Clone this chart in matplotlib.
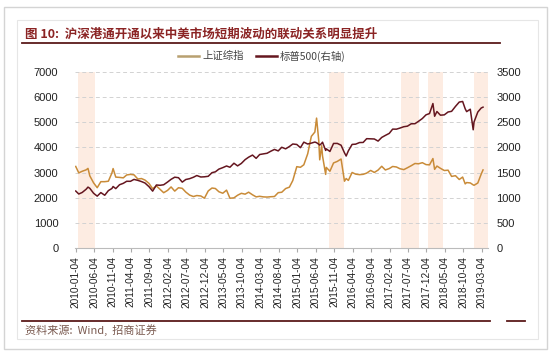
import matplotlib
matplotlib.use("Agg")
import matplotlib.pyplot as plt
import pandas as pd
from matplotlib.lines import Line2D
from matplotlib.patches import Rectangle

plt.rcParams['font.family'] = ['Liberation Sans', 'Noto Sans CJK SC', 'DejaVu Sans']

title = "图 10:  沪深港通开通以来中美市场短期波动的联动关系明显提升"
source = "资料来源:  Wind,  招商证券"
sh_name = "上证综指"
sp_name = "标普500(右轴)"

dates = [
    "2010-01-04", "2010-01-29", "2010-02-26", "2010-03-31", "2010-04-15", "2010-04-30",
    "2010-05-31", "2010-06-30", "2010-07-30", "2010-08-31", "2010-09-30", "2010-10-29",
    "2010-11-08", "2010-11-30", "2010-12-31",
    "2011-01-31", "2011-02-28", "2011-03-31", "2011-04-29", "2011-05-31", "2011-06-30",
    "2011-07-29", "2011-08-31", "2011-09-30", "2011-10-31", "2011-11-30", "2011-12-30",
    "2012-01-31", "2012-02-29", "2012-03-30", "2012-04-30", "2012-05-31", "2012-06-29",
    "2012-07-31", "2012-08-31", "2012-09-28", "2012-10-31", "2012-11-30", "2012-12-31",
    "2013-01-31", "2013-02-28", "2013-03-29", "2013-04-30", "2013-05-31", "2013-06-28",
    "2013-07-31", "2013-08-30", "2013-09-30", "2013-10-31", "2013-11-29", "2013-12-31",
    "2014-01-30", "2014-02-28", "2014-03-31", "2014-04-30", "2014-05-30", "2014-06-30",
    "2014-07-31", "2014-08-29", "2014-09-30", "2014-10-31", "2014-11-28", "2014-12-31",
    "2015-01-30", "2015-02-27", "2015-03-31", "2015-04-30", "2015-05-29", "2015-06-12",
    "2015-06-30", "2015-07-08", "2015-07-24", "2015-07-31", "2015-08-26", "2015-08-31",
    "2015-09-30", "2015-10-30", "2015-11-30", "2015-12-31",
    "2016-01-28", "2016-02-11", "2016-02-29", "2016-03-31", "2016-04-29", "2016-05-31",
    "2016-06-30", "2016-07-29", "2016-08-31", "2016-09-30", "2016-10-31", "2016-11-30",
    "2016-12-30",
    "2017-01-31", "2017-02-28", "2017-03-31", "2017-04-28", "2017-05-31", "2017-06-30",
    "2017-07-31", "2017-08-31", "2017-09-29", "2017-10-31", "2017-11-30", "2017-12-29",
    "2018-01-26", "2018-02-09", "2018-02-28", "2018-03-29", "2018-04-30", "2018-05-31",
    "2018-06-29", "2018-07-31", "2018-08-31", "2018-09-28", "2018-10-19", "2018-10-31",
    "2018-11-30", "2018-12-24", "2018-12-31",
    "2019-01-31", "2019-02-28", "2019-03-15",
]

sh_index = [
    3243, 2989, 3051, 3109, 3166, 2870,
    2592, 2398, 2638, 2638, 2656, 2979,
    3159, 2820, 2808,
    2790, 2905, 2928, 2911, 2743, 2762,
    2701, 2568, 2359, 2468, 2333, 2199,
    2292, 2428, 2263, 2397, 2373, 2225,
    2103, 2047, 2086, 2069, 1981, 2269,
    2385, 2366, 2237, 2178, 2301, 1979,
    1994, 2098, 2175, 2141, 2220, 2116,
    2033, 2056, 2033, 2026, 2039, 2048,
    2201, 2217, 2364, 2420, 2683, 3235,
    3210, 3310, 3748, 4441, 4612, 5166,
    4277, 3507, 4070, 3664, 2927, 3206,
    3053, 3383, 3445, 3539,
    2656, 2763, 2688, 3004, 2938, 2917,
    2930, 2979, 3085, 3005, 3100, 3250,
    3104,
    3159, 3242, 3223, 3155, 3117, 3192,
    3273, 3361, 3349, 3393, 3317, 3307,
    3558, 3129, 3259, 3169, 3082, 3095,
    2847, 2876, 2725, 2821, 2550, 2603,
    2588, 2510, 2494,
    2585, 2941, 3105,
]

sp500 = [
    1133, 1074, 1104, 1169, 1211, 1187,
    1089, 1031, 1102, 1049, 1141, 1183,
    1223, 1181, 1258,
    1286, 1327, 1326, 1364, 1345, 1321,
    1292, 1219, 1131, 1253, 1247, 1258,
    1312, 1366, 1408, 1398, 1310, 1362,
    1379, 1407, 1441, 1412, 1416, 1426,
    1498, 1515, 1569, 1598, 1631, 1606,
    1686, 1633, 1682, 1757, 1806, 1848,
    1783, 1859, 1872, 1884, 1924, 1960,
    1931, 2003, 1972, 2018, 2068, 2059,
    1995, 2105, 2068, 2086, 2107, 2094,
    2063, 2047, 2079, 2104, 1940, 1972,
    1920, 2079, 2080, 2044,
    1893, 1829, 1932, 2060, 2065, 2097,
    2099, 2174, 2171, 2168, 2126, 2199,
    2239,
    2279, 2364, 2363, 2384, 2412, 2423,
    2470, 2472, 2519, 2575, 2648, 2674,
    2873, 2620, 2714, 2641, 2648, 2705,
    2718, 2816, 2902, 2914, 2768, 2712,
    2760, 2351, 2507,
    2704, 2784, 2801,
]

band_starts = ["2010-01-20", "2015-09-20", "2017-05-07", "2017-12-16", "2018-12-31"]
band_ends = ["2010-06-08", "2016-01-22", "2017-10-04", "2018-04-19", "2019-04-25"]

tick_labels = ["2010-01-04", "2010-06-04", "2010-11-04", "2011-04-04", "2011-09-04",
               "2012-02-04", "2012-07-04", "2012-12-04", "2013-05-04", "2013-10-04",
               "2014-03-04", "2014-08-04", "2015-01-04", "2015-06-04", "2015-11-04",
               "2016-04-04", "2016-09-04", "2017-02-04", "2017-07-04", "2017-12-04",
               "2018-05-04", "2018-10-04", "2019-03-04"]

W, H = 550, 356
fig = plt.figure(figsize=(W / 100, H / 100), dpi=100)
fig.patch.set_facecolor("white")

def fx(x):
    return x / W

def fy(y):
    return 1 - y / H

# outer frames
fig.add_artist(Rectangle((fx(4), fy(349)), fx(543), (349 - 7) / H, transform=fig.transFigure,
                         fill=False, edgecolor="#d4d4d4", linewidth=1.0))
fig.add_artist(Rectangle((fx(17), fy(339)), fx(521), (339 - 20) / H, transform=fig.transFigure,
                         fill=False, edgecolor="#e6e6e6", linewidth=0.8))

title_color = "#8b2424"
fig.text(fx(25), fy(34), title, color=title_color, fontsize=9, fontweight="bold",
         va="center", ha="left", family=['Noto Sans CJK SC', 'DejaVu Sans'])
fig.add_artist(Line2D([fx(22), fx(500)], [fy(42.5), fy(42.5)], transform=fig.transFigure,
                      color="#5a1a1a", linewidth=1.3))
fig.add_artist(Line2D([fx(22), fx(490)], [fy(321), fy(321)], transform=fig.transFigure,
                      color="#5a1a1a", linewidth=1.3))
fig.add_artist(Line2D([fx(507), fx(525)], [fy(321), fy(321)], transform=fig.transFigure,
                      color="#5a1a1a", linewidth=1.3))
fig.text(fx(25), fy(330), source, color="#7a5a50", fontsize=8, va="center", ha="left",
         family=['Noto Sans CJK SC', 'DejaVu Sans'])

ax = fig.add_axes([fx(75), fy(248), fx(488) - fx(75), (248 - 72) / H])
ax2 = ax.twinx()

d = pd.to_datetime(dates)
gold = "#c98b38"
maroon = "#65161f"

for s, e in zip(band_starts, band_ends):
    ax.axvspan(pd.Timestamp(s), pd.Timestamp(e), color="#fdece2", zorder=0, linewidth=0)

ax.plot(d, sh_index, color=gold, linewidth=1.1, zorder=3)
ax2.plot(d, sp500, color=maroon, linewidth=1.1, zorder=3)

ax.set_ylim(0, 7000)
ax2.set_ylim(0, 3500)
ax.set_yticks(range(0, 7001, 1000))
ax2.set_yticks(range(0, 3501, 500))
ax.set_xlim(pd.Timestamp("2009-12-29"), pd.Timestamp("2019-04-25"))
ax.grid(axis="y", color="#d2d2d2", linestyle=(0, (4, 3)), linewidth=0.7)
ax.set_axisbelow(True)

ticks = pd.to_datetime(tick_labels)
ax.set_xticks(ticks)
ax.set_xticklabels(tick_labels, rotation=90, fontsize=7.3, color="#222222")
ax.tick_params(axis="x", length=3, color="#aaaaaa", pad=3)
ax.tick_params(axis="y", length=0, pad=12, labelsize=8, labelcolor="#222222")
ax2.tick_params(axis="y", length=0, pad=6, labelsize=8, labelcolor="#222222")

for a in (ax, ax2):
    for side in ("top", "left", "right"):
        a.spines[side].set_visible(False)
    a.spines["bottom"].set_color("#bbbbbb")
    a.spines["bottom"].set_linewidth(0.8)
ax2.spines["bottom"].set_visible(False)

handles = [Line2D([], [], color="#b8a070", linewidth=1.8),
           Line2D([], [], color=maroon, linewidth=1.8)]
fig.legend(handles, [sh_name, sp_name], loc="center", bbox_to_anchor=(fx(262), fy(56)),
           ncol=2, frameon=False, handlelength=2.0, handletextpad=0.3,
           columnspacing=1.2, labelcolor="#444444",
           prop={'family': ['Noto Sans CJK SC', 'DejaVu Sans'], 'size': 7.5})

fig.savefig("out.png", dpi=100, facecolor="white")
